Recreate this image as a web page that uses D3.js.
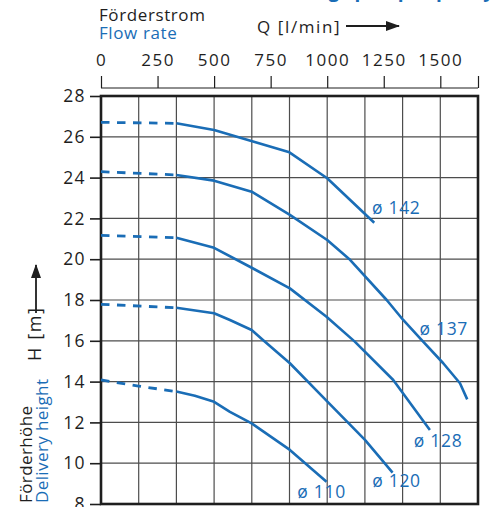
<!DOCTYPE html>
<html>
<head>
<meta charset="utf-8">
<script src="https://cdn.jsdelivr.net/npm/d3@7"></script>
<style>
  html, body { margin: 0; padding: 0; background: #fff; }
  svg { display: block; font-family: "Open Sans", "Noto Sans", sans-serif; }
</style>
</head>
<body>
<svg id="chart" width="496" height="507"></svg>
<script>
// Flow axis ticks (l/min) and head axis ticks (m)
const flowTicks = [0, 250, 500, 750, 1000, 1250, 1500];
const headTicks = [8, 10, 12, 14, 16, 18, 20, 22, 24, 26, 28];

// Impeller diameters
const curveNames = ["ø 142", "ø 137", "ø 128", "ø 120", "ø 110"];

// Pump curves: flow (l/min) and delivery head (m); below 333 l/min the curve is dashed
const flow142 = [0, 333, 500, 833, 1000, 1208];
const head142 = [26.71, 26.66, 26.33, 25.24, 23.97, 21.79];

const flow137 = [0, 333, 500, 666, 835, 1000, 1097, 1263, 1336, 1417, 1513, 1587, 1619];
const head137 = [24.29, 24.13, 23.85, 23.31, 22.17, 20.94, 20.01, 18.0, 17.02, 16.04, 14.9, 13.92, 13.13];

const flow128 = [0, 333, 500, 658, 835, 997, 1122, 1292, 1454];
const head128 = [21.17, 21.05, 20.56, 19.63, 18.57, 17.18, 15.96, 14.08, 11.63];

const flow120 = [0, 333, 500, 570, 666, 716, 835, 1002, 1167, 1289];
const head120 = [17.79, 17.62, 17.35, 17.02, 16.53, 16.04, 14.9, 13.01, 11.14, 9.54];

const flow110 = [0, 166, 333, 415, 500, 570, 666, 835, 997];
const head110 = [14.08, 13.78, 13.51, 13.31, 13.01, 12.52, 11.95, 10.65, 9.09];

const dashedUntil = 333;
const flowMax = 5000 / 3;          // 100 m³/h expressed in l/min

// Label anchors in data units (flow, head)
const labelFlow = [1198, 1408, 1383, 1199, 868];
const labelHead = [22.22, 16.28, 10.77, 8.81, 8.29];

const curves = [
  { flow: flow142, head: head142 },
  { flow: flow137, head: head137 },
  { flow: flow128, head: head128 },
  { flow: flow120, head: head120 },
  { flow: flow110, head: head110 }
];

const BLUE = "#1a6db6";
const INK = "#1e1e1e";

const svg = d3.select("#chart");

const x = d3.scaleLinear().domain([0, flowMax]).range([101, 478]);
const y = d3.scaleLinear().domain([8, 28]).range([504, 96]);

// Grid: one vertical line every 10 m³/h, one horizontal per head tick
const gridFlow = d3.range(0, 11).map(i => i * flowMax / 10);
const grid = svg.append("g");
grid.selectAll("line.v").data(gridFlow.slice(1, -1)).join("line")
  .attr("x1", d => x(d)).attr("x2", d => x(d))
  .attr("y1", y(28)).attr("y2", y(8))
  .attr("stroke", "#4d4d4d").attr("stroke-width", 1.2);
grid.selectAll("line.h").data(headTicks.slice(1, -1)).join("line")
  .attr("x1", x(0)).attr("x2", x(flowMax))
  .attr("y1", d => y(d)).attr("y2", d => y(d))
  .attr("stroke", "#4d4d4d").attr("stroke-width", 1.2);

// Frame
svg.append("rect")
  .attr("x", x(0)).attr("y", y(28))
  .attr("width", x(flowMax) - x(0)).attr("height", y(8) - y(28))
  .attr("fill", "none").attr("stroke", INK).attr("stroke-width", 2.6);

// Left head axis
const yAxis = d3.axisLeft(y).tickValues(headTicks).tickSize(11).tickPadding(4).tickFormat(d3.format("d"));
const gy = svg.append("g").attr("transform", `translate(${x(0)},0)`).call(yAxis);
gy.select(".domain").remove();
gy.selectAll(".tick line").attr("stroke", INK).attr("stroke-width", 1.6);
gy.selectAll(".tick text")
  .attr("fill", INK).attr("font-size", 17.5).attr("letter-spacing", 1.4)
  .attr("font-family", "'Open Sans', sans-serif");

// Top flow axis (separate bracket above the plot)
const xTop = d3.axisTop(x).tickValues(flowTicks.concat([flowMax])).tickSize(12).tickPadding(10)
  .tickFormat(d => flowTicks.includes(d) ? d : "");
const gx = svg.append("g").attr("transform", "translate(0,88)").call(xTop);
gx.select(".domain").attr("stroke", INK).attr("stroke-width", 1.2)
  .attr("d", `M${x(0)},0H${x(flowMax)}`);
gx.selectAll(".tick line").attr("stroke", INK).attr("stroke-width", 1.2);
gx.selectAll(".tick text")
  .attr("fill", INK).attr("font-size", 17).attr("letter-spacing", 1.5)
  .attr("font-family", "'Open Sans', sans-serif");

// Curves
const line = d3.line().x(d => x(d[0])).y(d => y(d[1]));
const gc = svg.append("g").attr("fill", "none").attr("stroke", BLUE).attr("stroke-linejoin", "round");
curves.forEach(c => {
  const pts = c.flow.map((f, i) => [f, c.head[i]]);
  gc.append("path").attr("d", line(pts.filter(p => p[0] <= dashedUntil)))
    .attr("stroke-width", 2.8).attr("stroke-dasharray", "8.5,7.5");
  gc.append("path").attr("d", line(pts.filter(p => p[0] >= dashedUntil)))
    .attr("stroke-width", 2.6);
});

// Curve labels
svg.append("g").selectAll("text").data(curveNames).join("text")
  .attr("x", (d, i) => x(labelFlow[i]))
  .attr("y", (d, i) => y(labelHead[i]))
  .attr("fill", BLUE).attr("font-size", 17.5).attr("letter-spacing", 0.7)
  .text(d => d);

// Header texts
svg.append("text").attr("x", 494).attr("y", -3.2).attr("text-anchor", "end")
  .attr("fill", BLUE).attr("font-size", 19).attr("font-weight", 700)
  .text("Förderleistung · pump capacity");

svg.append("text").attr("x", 99).attr("y", 21)
  .attr("fill", INK).attr("font-size", 17).attr("letter-spacing", 0.6)
  .text("Förderstrom");
svg.append("text").attr("x", 99).attr("y", 39)
  .attr("fill", BLUE).attr("font-size", 17).attr("letter-spacing", 0.6)
  .text("Flow rate");
svg.append("text").attr("x", 257).attr("y", 33)
  .attr("fill", INK).attr("font-size", 17).attr("letter-spacing", 1.6)
  .text("Q [l/min]");

// Arrow head marker
svg.append("defs").append("marker").attr("id", "arrowHead")
  .attr("viewBox", "0 0 14 10").attr("refX", 13).attr("refY", 5)
  .attr("markerWidth", 14).attr("markerHeight", 10).attr("markerUnits", "userSpaceOnUse")
  .attr("orient", "auto")
  .append("path").attr("d", "M0,0L14,5L0,10Z").attr("fill", INK);

svg.append("line").attr("x1", 346).attr("x2", 399).attr("y1", 26).attr("y2", 26)
  .attr("stroke", INK).attr("stroke-width", 1.8).attr("marker-end", "url(#arrowHead)");

// Vertical axis title
const yt = svg.append("g");
yt.append("text").attr("transform", "translate(32,503) rotate(-90)")
  .attr("fill", INK).attr("font-size", 17).attr("letter-spacing", 0.4)
  .text("Förderhöhe");
yt.append("text").attr("transform", "translate(48,503) rotate(-90)")
  .attr("fill", BLUE).attr("font-size", 17).attr("letter-spacing", 0.4)
  .text("Delivery height");
yt.append("text").attr("transform", "translate(41,361) rotate(-90)")
  .attr("fill", INK).attr("font-size", 18).attr("letter-spacing", 1.6)
  .text("H [m]");
svg.append("line").attr("x1", 36).attr("x2", 36).attr("y1", 313).attr("y2", 265)
  .attr("stroke", INK).attr("stroke-width", 1.8).attr("marker-end", "url(#arrowHead)");
</script>
</body>
</html>
